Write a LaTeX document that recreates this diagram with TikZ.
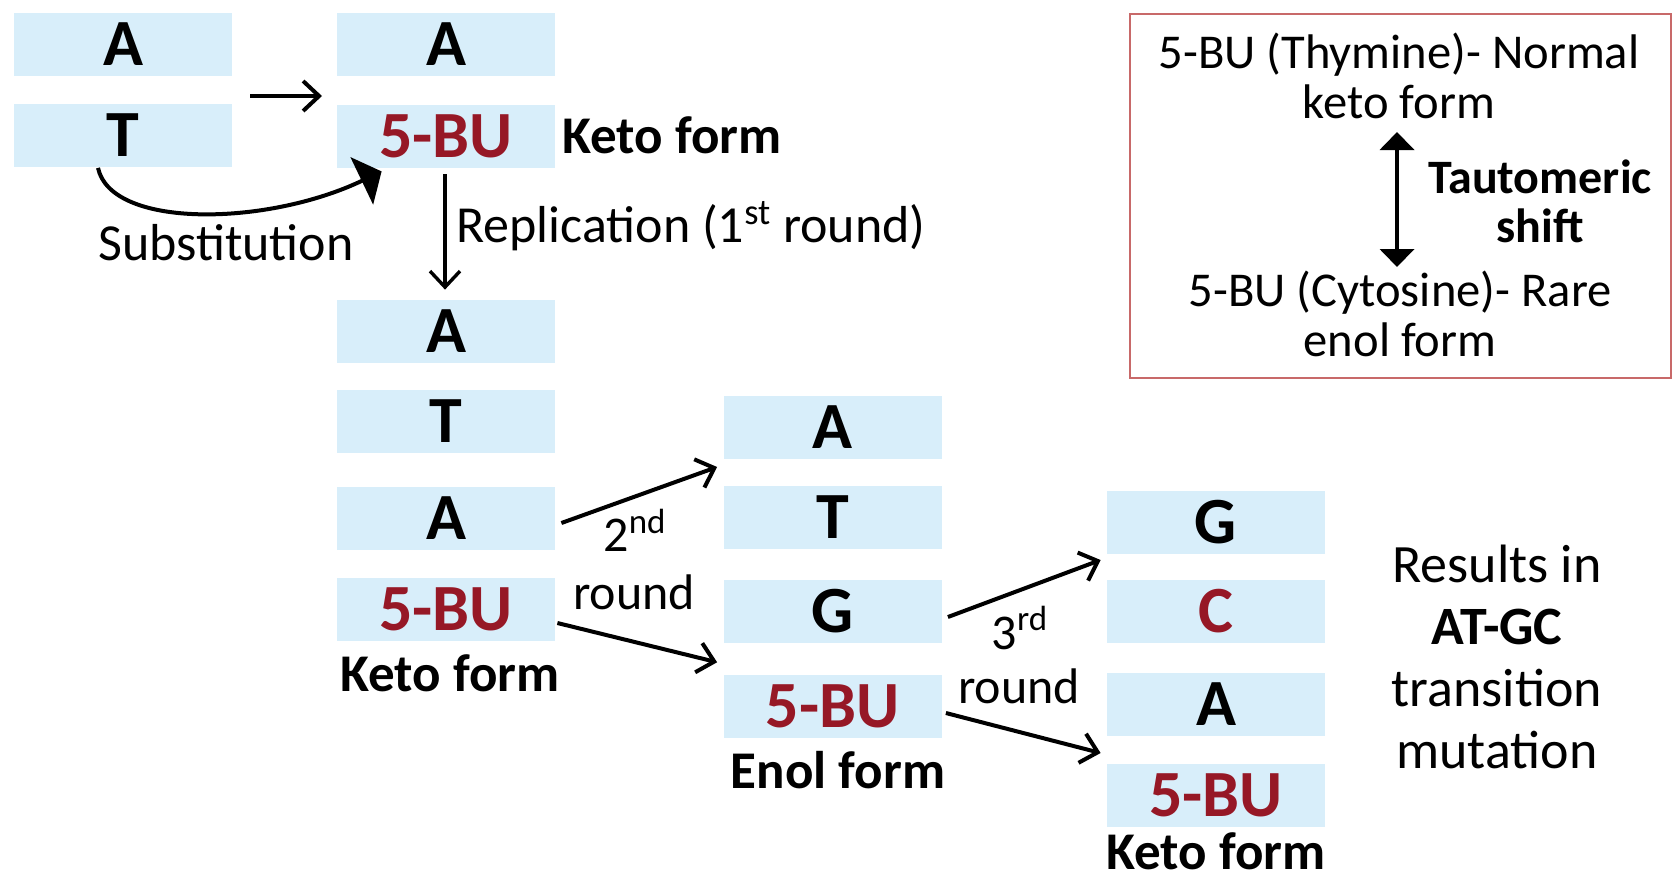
\documentclass[tikz,border=0pt]{standalone}
\usepackage{fontspec}
\setmainfont{Carlito}
\usetikzlibrary{arrows.meta,calc}
\definecolor{boxblue}{RGB}{216,238,250}
\definecolor{bured}{RGB}{150,24,38}
\definecolor{framered}{RGB}{200,105,105}
\tikzset{
  base/.style={fill=boxblue, inner sep=0pt, minimum width=109pt, minimum height=31.5pt,
    font=\fontsize{33}{40}\selectfont\bfseries},
  bu/.style={base, text=bured},
  formlbl/.style={inner sep=0pt, font=\fontsize{26.5}{32}\selectfont\bfseries},
  lbl/.style={inner sep=0pt, font=\fontsize{26}{31}\selectfont},
  rnd/.style={inner sep=0pt, font=\fontsize{25}{30}\selectfont, align=center},
  boxtxt/.style={inner sep=0pt, align=center, font=\fontsize{24.3}{25}\selectfont},
  arr/.style={line width=2pt, -{Straight Barb[length=8pt,width=15pt]}},
}
\begin{document}
\begin{tikzpicture}[x=0.5pt,y=-0.5pt]
\useasboundingbox (0,0) rectangle (1673,879);
% column 1
\node[base] (c1a) at (123,44.5) {A};
\node[base] (c1t) at (123,135) {T};
% column 2 top
\node[base] (c2a) at (446,44.5) {A};
\node[bu] (c2bu) at (446,136.5) {5-BU};
\node[formlbl, anchor=west] (keto1) at (562,135) {Keto form};
% column 2 lower
\node[base] (c2a2) at (446,331.5) {A};
\node[base] (c2t2) at (446,421.5) {T};
\node[base] (c2a3) at (446,518.5) {A};
\node[bu] (c2bu2) at (446,609) {5-BU};
\node[formlbl] (keto2) at (450,673) {Keto form};
% column 3
\node[base] (c3a) at (832.5,427.5) {A};
\node[base] (c3t) at (832.5,517.5) {T};
\node[base] (c3g) at (832.5,611.5) {G};
\node[bu] (c3bu) at (832.5,706) {5-BU};
\node[formlbl] (enol) at (838,770) {Enol form};
% column 4
\node[base] (c4g) at (1216,522.5) {G};
\node[base, text=bured] (c4c) at (1216,611.5) {C};
\node[base] (c4a) at (1216,704.5) {A};
\node[bu] (c4bu) at (1216,795.5) {5-BU};
\node[formlbl] (keto3) at (1216,851) {Keto form};

% top arrow
\coordinate (t1) at (250,96);
\coordinate (t2) at (322,96);
\draw[arr] (t1) -- (t2);
% substitution
\draw[line width=2pt, -{Triangle[length=11pt,width=26pt]}]
  ($(c1t.south)+(-25,1)$) .. controls ($(c1t.south)+(-12,62)$) and ($(c2bu.south west)+(-70,58)$) .. ($(c2bu.south west)+(45,3)$);
\node[lbl] (subst) at (226,243) {Substitution};
% replication
\draw[line width=1.7pt, -{Straight Barb[length=8pt,width=15pt]}]
  ($(c2bu.south)+(-1,6)$) -- ($(c2a2.north)+(-1,-10)$);
\node[lbl, anchor=west] (repl) at (456,226) {Replication (1\textsuperscript{st} round)};
% 2nd round
\draw[arr] ($(c2a3.east)+(6,4.5)$) -- ($(c3a.south west)!0.5!(c3t.north west)+(-6,-5.5)$);
\draw[arr] ($(c2bu2.east)+(2,14)$) -- ($(c3g.south west)!0.5!(c3bu.north west)+(-6,3.5)$);
\node[rnd] (r2a) at (635,530) {2\textsuperscript{nd}};
\node[rnd] (r2b) at (634,592) {round};
% 3rd round
\draw[arr] ($(c3g.east)+(6,5.5)$) -- ($(c4g.south west)!0.5!(c4c.north west)+(-6,-7)$);
\draw[arr] ($(c3bu.east)+(4,7)$) -- ($(c4a.south west)!0.5!(c4bu.north west)+(-6,3)$);
\node[rnd] (r3a) at (1020,628) {3\textsuperscript{rd}};
\node[rnd] (r3b) at (1019,686) {round};
% result
\node[inner sep=0pt, align=center, font=\fontsize{27}{31}\selectfont] (res) at (1497,657)
  {Results in\\\textbf{AT-GC}\\transition\\mutation};
% top-right frame
\node[draw=framered, line width=1.2pt, minimum width=270.5pt, minimum height=182pt,
  anchor=north west, inner sep=0pt] (frame) at (1129,13) {};
\node[boxtxt] (thy) at (1399,76) {5-BU (Thymine)- Normal\\keto form};
\node[boxtxt] (cyt) at (1400,314) {5-BU (Cytosine)- Rare\\enol form};
\coordinate (d1) at (1397,132);
\coordinate (d2) at (1397,267);
\draw[line width=2pt, {Triangle[length=9pt,width=17pt]}-{Triangle[length=9pt,width=17pt]}] (d1) -- (d2);
\node[inner sep=0pt, align=center, font=\fontsize{24}{24.5}\selectfont\bfseries] (taut) at (1540,201) {Tautomeric\\shift};
\end{tikzpicture}
\end{document}
